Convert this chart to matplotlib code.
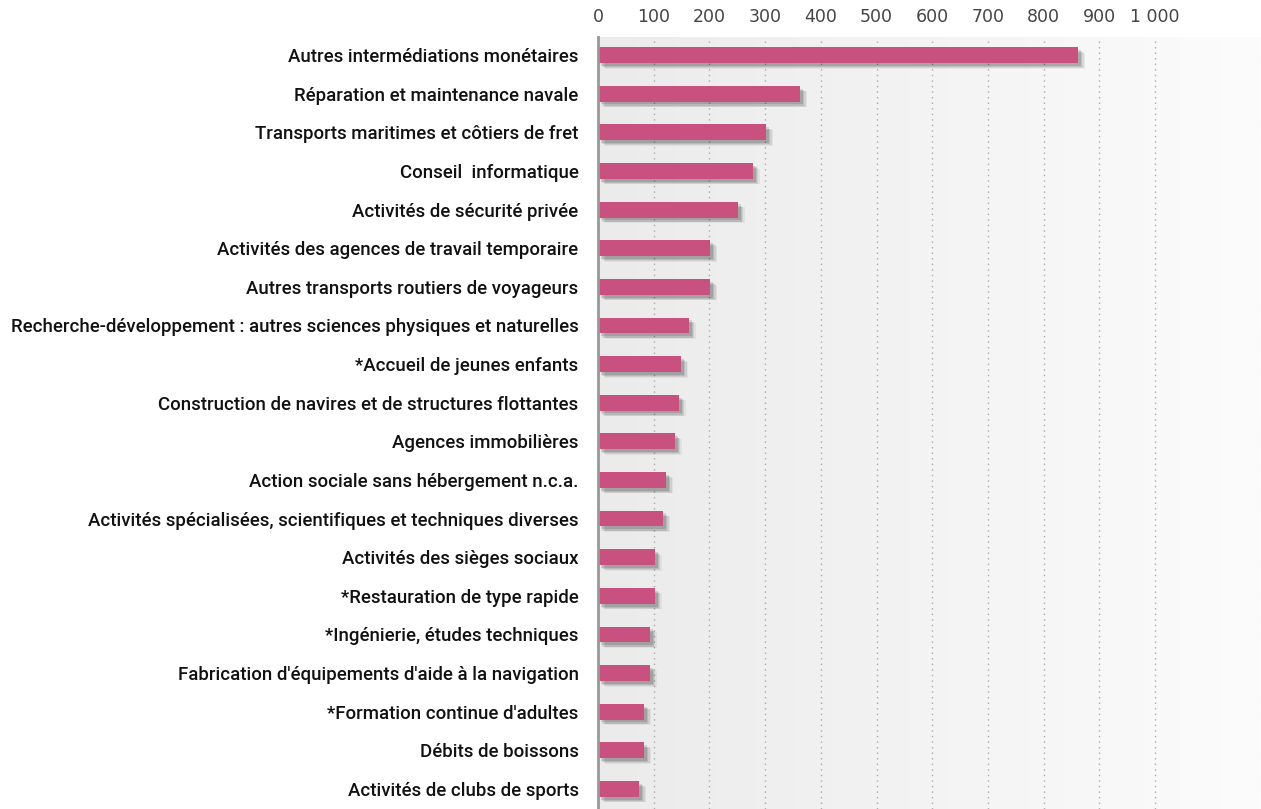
import numpy as np
import matplotlib
matplotlib.use("Agg")
import matplotlib.pyplot as plt
import matplotlib.patheffects as pe

categories = [
    "Autres intermédiations monétaires",
    "Réparation et maintenance navale",
    "Transports maritimes et côtiers de fret",
    "Conseil  informatique",
    "Activités de sécurité privée",
    "Activités des agences de travail temporaire",
    "Autres transports routiers de voyageurs",
    "Recherche-développement : autres sciences physiques et naturelles",
    "*Accueil de jeunes enfants",
    "Construction de navires et de structures flottantes",
    "Agences immobilières",
    "Action sociale sans hébergement n.c.a.",
    "Activités spécialisées, scientifiques et techniques diverses",
    "Activités des sièges sociaux",
    "*Restauration de type rapide",
    "*Ingénierie, études techniques",
    "Fabrication d'équipements d'aide à la navigation",
    "*Formation continue d'adultes",
    "Débits de boissons",
    "Activités de clubs de sports",
]
values = [862, 363, 302, 278, 251, 201, 201, 163, 149, 145,
          138, 122, 117, 102, 102, 93, 93, 83, 83, 74]
tick_values = [0, 100, 200, 300, 400, 500, 600, 700, 800, 900, 1000]
tick_labels = ["0", "100", "200", "300", "400", "500", "600", "700", "800", "900", "1 000"]

bar_color = "#c9517f"

fig = plt.figure(figsize=(12.61, 8.09), dpi=100)
ax = fig.add_axes([598 / 1261, 0, 1 - 598 / 1261, 1 - 37 / 809])

# gradient background
grad = np.linspace(0, 1, 256).reshape(1, -1)
ax.imshow(grad, cmap=matplotlib.colors.LinearSegmentedColormap.from_list("bg", ["#ebebeb", "#fcfcfc"]),
          extent=[0, 1190, 19.52, -0.47], aspect="auto", zorder=0)

y = np.arange(len(categories))
shadow = [
    pe.SimplePatchShadow(offset=(5, -4), shadow_rgbFace="black", alpha=0.05),
    pe.SimplePatchShadow(offset=(4, -3.5), shadow_rgbFace="black", alpha=0.08),
    pe.SimplePatchShadow(offset=(3, -3), shadow_rgbFace="black", alpha=0.1),
    pe.SimplePatchShadow(offset=(2, -2), shadow_rgbFace="black", alpha=0.12),
    pe.Normal(),
]
bars = ax.barh(y, values, height=0.41, color=bar_color, zorder=3)
for b in bars:
    b.set_path_effects(shadow)

ax.set_xlim(0, 1190)
ax.set_ylim(19.52, -0.47)
ax.set_yticks(y)
ax.set_yticklabels(categories, fontsize=13.4, family=["Roboto", "DejaVu Sans"], fontweight="medium", color="#111111")
ax.set_xticks(tick_values)
ax.set_xticklabels(tick_labels, fontsize=12.5, family=["Liberation Sans Narrow", "DejaVu Sans"], color="#444444")
ax.xaxis.tick_top()
ax.tick_params(axis="x", length=0, pad=8)
ax.tick_params(axis="y", length=0, pad=14)

ax.grid(axis="x", linestyle=(0, (1, 3)), color="#aaaaaa", linewidth=1, zorder=1)
ax.set_axisbelow(True)
for s in ["top", "right", "bottom"]:
    ax.spines[s].set_visible(False)
ax.spines["left"].set_color("#999999")
ax.spines["left"].set_linewidth(2)
ax.spines["left"].set_zorder(4)

fig.savefig("out.png", dpi=100)
